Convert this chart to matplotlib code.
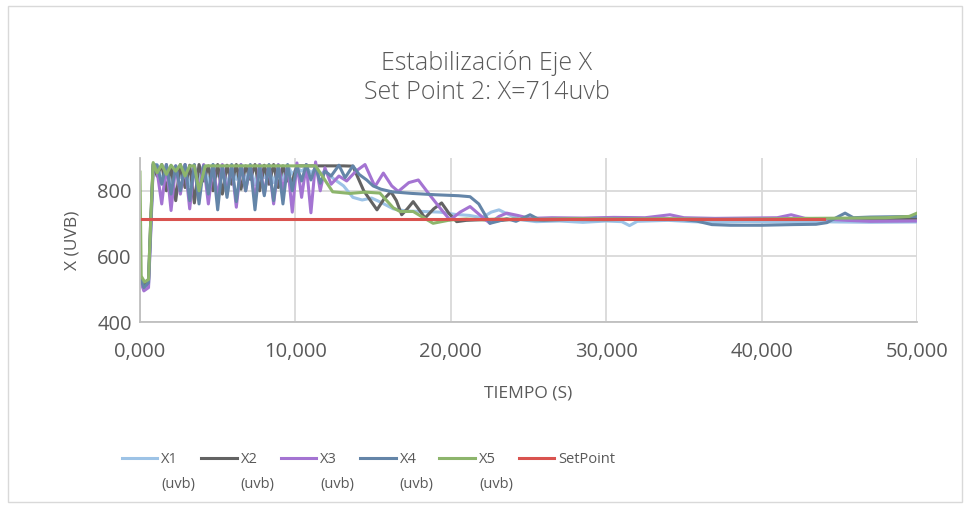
import matplotlib
matplotlib.use('Agg')
import matplotlib.pyplot as plt
from matplotlib.lines import Line2D
from matplotlib.patches import Rectangle

plt.rcParams['font.family'] = ['Open Sans', 'DejaVu Sans']

# datos (tiempo, valor)
t_ini = [0, 250, 550, 700, 850]
t_osc = [1100, 1400, 1700, 2000, 2300, 2600, 2900, 3200, 3500, 3800, 4100, 4400,
         4700, 5000, 5300, 5600, 5900, 6200, 6500, 6800, 7100, 7400, 7700, 8000,
         8300, 8600, 8900, 9200, 9500, 9800, 10100, 10400, 10700, 11000, 11300,
         11600, 11900]

x1_ini = [535, 500, 512, 690, 878]
x1_osc = [880, 830, 878, 820, 875, 840, 880, 815, 872, 835, 878, 825, 880, 845,
          876, 820, 870, 835, 880, 830, 875, 818, 880, 840, 876, 825, 872, 835,
          878, 850, 870, 860, 872, 855, 868, 850, 860]
t_x1_fin = [12500, 13100, 13700, 14300, 14900, 15500, 16300, 17200, 18200, 19300,
            20300, 21200, 22000, 22600, 23100, 23700, 24500, 25500, 27000, 28500,
            30000, 31000, 31500, 32000, 34000, 35500, 37000, 39000, 41000, 43000,
            45000, 47000, 50000]
x1_fin = [835, 815, 780, 772, 778, 765, 745, 738, 737, 735, 728, 725, 718, 735,
          742, 728, 712, 706, 708, 704, 708, 706, 694, 707, 710, 706, 704, 706,
          705, 706, 705, 704, 705]

x2_ini = [545, 515, 530, 720, 882]
x2_osc = [845, 880, 800, 876, 770, 880, 810, 878, 763, 880, 830, 876, 800, 880,
          790, 878, 820, 880, 805, 876, 835, 880, 800, 878, 820, 880, 810, 876,
          830, 830, 876, 876, 876, 876, 876, 876, 876]
t_x2_fin = [12500, 13100, 13700, 14400, 15250, 15700, 16150, 16500, 16840, 17200,
            17580, 18000, 18340, 18900, 19410, 19900, 20380, 21000, 22000, 23000,
            24000, 26000, 28000, 30000, 33000, 36000, 40000, 44000, 47000, 50000]
x2_fin = [876, 876, 875, 800, 742, 775, 797, 770, 727, 745, 767, 740, 717, 745,
          763, 730, 706, 710, 712, 709, 713, 711, 713, 712, 714, 713, 714, 715,
          716, 716]

x3_ini = [530, 495, 505, 680, 874]
x3_osc = [860, 760, 880, 740, 876, 790, 880, 745, 878, 800, 880, 760, 876, 780,
          880, 790, 878, 750, 880, 800, 876, 770, 880, 790, 878, 760, 880, 800,
          876, 735, 885, 780, 880, 733, 888, 800, 870]
t_x3_fin = [12300, 12800, 13300, 13900, 14480, 15120, 15660, 16200, 16620, 17300,
            17910, 18600, 19300, 19950, 20600, 21240, 21900, 22520, 23100, 23600,
            24300, 25100, 26500, 28500, 30500, 32500, 34100, 35000, 37000, 39000,
            41000, 41900, 42800, 44000, 45500, 47000, 50000]
x3_fin = [820, 845, 830, 860, 880, 813, 854, 815, 798, 825, 833, 790, 748, 711,
          735, 752, 725, 701, 722, 732, 725, 716, 718, 717, 719, 718, 727, 718,
          716, 717, 718, 727, 716, 714, 710, 707, 708]

x4_ini = [540, 505, 520, 700, 880]
x4_osc = [878, 820, 880, 790, 876, 800, 880, 770, 880, 760, 876, 790, 880, 742,
          876, 780, 880, 767, 878, 800, 880, 742, 876, 785, 880, 770, 878, 760,
          880, 800, 875, 830, 880, 833, 876, 823, 860]
t_x4_fin = [12300, 12800, 13200, 13700, 14100, 14590, 15000, 15500, 16200, 17500,
            19000, 20500, 21240, 21800, 22520, 23100, 23600, 24200, 25100, 25700,
            27000, 29000, 31000, 33000, 35000, 35800, 36800, 38000, 40000, 42000,
            43500, 44200, 44800, 45370, 45900, 47000, 48500, 50000]
x4_fin = [845, 878, 840, 876, 850, 833, 815, 805, 797, 792, 788, 785, 782, 760,
          701, 708, 715, 707, 727, 712, 713, 712, 714, 713, 712, 708, 697, 695,
          695, 697, 698, 703, 718, 732, 718, 720, 721, 722]

t_x5 = [0, 80, 300, 550, 700, 850, 1100, 1400, 1700, 2000, 2300, 2600, 2900, 3200,
        3500, 3800, 4200, 11300, 11800, 12400, 13500, 14500, 15440, 16300, 16730,
        17580, 18000, 18860, 19950, 21000, 22000, 23000, 25000, 28000, 31000,
        34000, 37000, 40000, 43000, 46000, 48000, 49500, 50000]
x5 = [857, 540, 522, 530, 720, 886, 855, 880, 850, 878, 860, 880, 845, 876, 876,
      800, 876, 876, 840, 797, 792, 796, 793, 748, 737, 737, 725, 701, 711, 714,
      712, 714, 713, 715, 714, 715, 713, 714, 716, 717, 718, 722, 732]

t_sp = [0, 44000]
setpoint = [714, 714]

x_ticks = [0, 10000, 20000, 30000, 40000, 50000]
x_tick_labels = ['0,000', '10,000', '20,000', '30,000', '40,000', '50,000']
y_ticks = [400, 600, 800]

series = [
    ('X1\n(uvb)', t_ini + t_osc + t_x1_fin, x1_ini + x1_osc + x1_fin, '#9DC3E6'),
    ('X2\n(uvb)', t_ini + t_osc + t_x2_fin, x2_ini + x2_osc + x2_fin, '#636363'),
    ('X3\n(uvb)', t_ini + t_osc + t_x3_fin, x3_ini + x3_osc + x3_fin, '#A474D2'),
    ('X4\n(uvb)', t_ini + t_osc + t_x4_fin, x4_ini + x4_osc + x4_fin, '#6485A8'),
    ('X5\n(uvb)', t_x5, x5, '#8DB56C'),
    ('SetPoint', t_sp, setpoint, '#D9534F'),
]

gris = '#595959'
fig = plt.figure(figsize=(9.66, 5.08), dpi=100)
fig.add_artist(Rectangle((0.008, 0.012), 0.988, 0.976, transform=fig.transFigure,
                         fill=False, edgecolor='#D9D9D9', lw=1))
ax = fig.add_axes([0.1449, 0.366, 0.8044, 0.323])

for lab, t, v, c in series:
    ax.plot(t, v, color=c, lw=2.2, solid_joinstyle='round')

ax.set_xlim(0, 50000)
ax.set_ylim(400, 900)
ax.set_xticks(x_ticks)
ax.set_xticklabels(x_tick_labels)
ax.set_yticks(y_ticks)
ax.grid(True, color='#D9D9D9', lw=1.3)
ax.set_axisbelow(True)
for s in ['top', 'right']:
    ax.spines[s].set_visible(False)
for s in ['left', 'bottom']:
    ax.spines[s].set_color('#BFBFBF')
    ax.spines[s].set_linewidth(1.3)
ax.tick_params(length=0, labelsize=14.5, colors=gris)
ax.tick_params(axis='x', pad=14)
ax.tick_params(axis='y', pad=6)
ax.set_xlabel('TIEMPO (S)', fontsize=12.5, color=gris, labelpad=17)
ax.set_ylabel('X (UVB)', fontsize=12.5, color=gris, labelpad=12)

fig.text(0.504, 0.876, 'Estabilización Eje X', ha='center', va='center',
         fontsize=18, color=gris, fontweight='light')
fig.text(0.504, 0.818, 'Set Point 2: X=714uvb', ha='center', va='center',
         fontsize=18, color=gris, fontweight='light')

# leyenda manual
x0 = 0.126
paso = 0.0822
for i, (lab, t, v, c) in enumerate(series):
    xs = x0 + i * paso
    fig.add_artist(Line2D([xs, xs + 0.037], [0.098, 0.098], color=c, lw=2.2,
                          transform=fig.transFigure))
    fig.text(xs + 0.041, 0.111, lab, ha='left', va='top', fontsize=10.5,
             color=gris, linespacing=1.95, transform=fig.transFigure)

fig.savefig('out.png', dpi=100)
